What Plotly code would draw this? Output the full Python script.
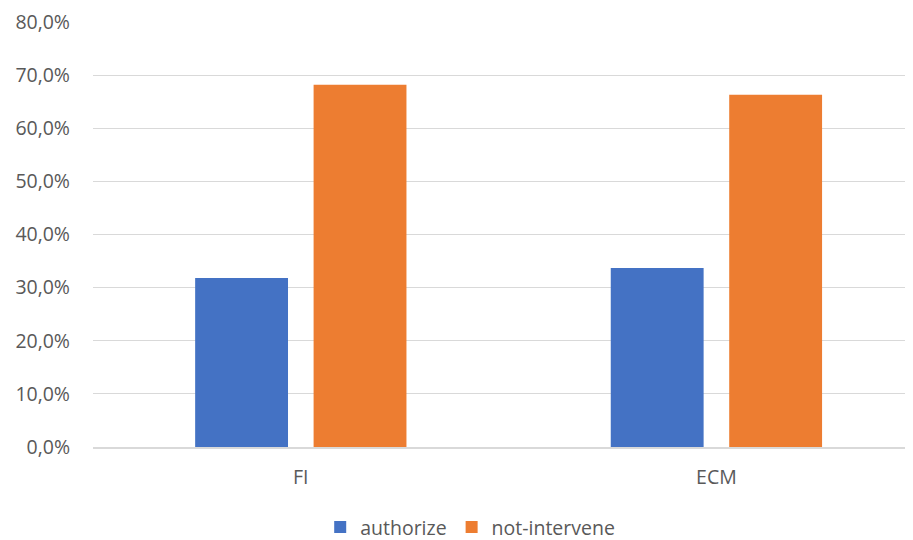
import plotly.graph_objects as go

categories = ["FI", "ECM"]
authorize = [0.318, 0.337]
not_intervene = [0.682, 0.663]
series_names = ["authorize", "not-intervene"]
colors = ["#4472C4", "#ED7D31"]

fig = go.Figure()
for name, vals, col in zip(series_names, [authorize, not_intervene], colors):
    fig.add_trace(go.Bar(x=categories, y=vals, name=name, marker=dict(color=col, line=dict(width=0))))

font_family = "'Open Sans', Lato, 'Liberation Sans', sans-serif"
# page body has an 8px default margin; compensate so the figure lines up in a 913x540 window
fig.update_layout(
    width=905, height=532,
    margin=dict(l=85, r=0, t=14, b=93, autoexpand=False),
    paper_bgcolor="white", plot_bgcolor="white",
    separators=",.",
    barmode="group", bargap=0.43, bargroupgap=0.216,
    font=dict(family=font_family, size=19.5, color="#595959"),
    legend=dict(orientation="h", x=0.46, xanchor="center", yref="container", y=0.024, yanchor="middle",
                font=dict(size=19.5, color="#595959"), itemwidth=30, traceorder="normal"),
    showlegend=True,
)
fig.update_xaxes(range=[-0.5, 1.473], showline=True, linecolor="#d9d9d9", linewidth=1.5,
                 showgrid=False, ticks="", ticklabelstandoff=12, tickfont=dict(size=19.5))
fig.update_yaxes(range=[0, 0.8], dtick=0.1, tickformat=".1%", showgrid=True, gridcolor="#d9d9d9",
                 gridwidth=1.2, zeroline=False, showline=False, ticks="", ticklabelstandoff=22,
                 ticklabeloverflow="allow", tickfont=dict(size=19.5))

fig.write_html("out.html")
